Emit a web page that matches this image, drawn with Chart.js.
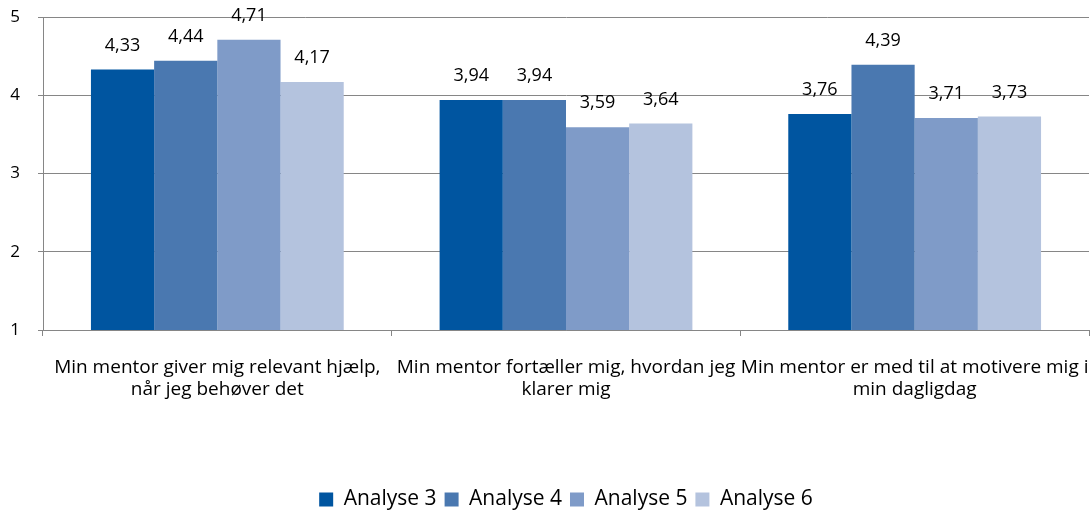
<!DOCTYPE html>
<html>
<head>
<meta charset="utf-8">
<script src="https://cdn.jsdelivr.net/npm/chart.js@4"></script>
<style>
    body { margin: 0; background: #fff; }
    #wrap { width: 1091px; height: 513px; }
</style>
</head>
<body>
<div id="wrap"><canvas id="mentorChart" width="1091" height="513"></canvas></div>
<script>
const categories = [
    ['Min mentor giver mig relevant hjælp,', 'når jeg behøver det'],
    ['Min mentor fortæller mig, hvordan jeg', 'klarer mig'],
    ['Min mentor er med til at motivere mig i', 'min dagligdag']
];
const seriesNames = ['Analyse 3', 'Analyse 4', 'Analyse 5', 'Analyse 6'];
const analyse3 = [4.33, 3.94, 3.76];
const analyse4 = [4.44, 3.94, 4.39];
const analyse5 = [4.71, 3.59, 3.71];
const analyse6 = [4.17, 3.64, 3.73];
const yTicks = [1, 2, 3, 4, 5];

const colors = ['#0055a0', '#4a78b0', '#7f9bc8', '#b4c3de'];
const fontFamily = '"Open Sans", sans-serif';

// value labels above each bar, Danish decimal comma
const barLabels = {
    id: 'barLabels',
    afterDatasetsDraw(chart) {
        const ctx = chart.ctx;
        ctx.save();
        ctx.font = '18px ' + fontFamily;
        ctx.fillStyle = '#000';
        ctx.textAlign = 'center';
        ctx.textBaseline = 'middle';
        chart.data.datasets.forEach((ds, i) => {
            chart.getDatasetMeta(i).data.forEach((bar, j) => {
                ctx.fillText(ds.data[j].toFixed(2).replace('.', ','), bar.x, bar.y - 24);
            });
        });
        ctx.restore();
    }
};

const seriesData = [analyse3, analyse4, analyse5, analyse6];

new Chart(document.getElementById('mentorChart'), {
    type: 'bar',
    plugins: [barLabels],
    data: {
        labels: categories,
        datasets: seriesNames.map((name, i) => ({
            label: name,
            data: seriesData[i],
            backgroundColor: colors[i],
            borderWidth: 0,
            categoryPercentage: 0.725,
            barPercentage: 1
        }))
    },
    options: {
        responsive: false,
        animation: false,
        layout: {
            padding: { top: 17, right: 2, bottom: -7, left: 0 }
        },
        plugins: {
            tooltip: { enabled: false },
            legend: {
                position: 'bottom',
                fullSize: false,
                labels: {
                    boxWidth: 14,
                    boxHeight: 14,
                    color: '#000',
                    padding: 8,
                    font: { family: fontFamily, size: 21 }
                }
            }
        },
        scales: {
            x: {
                afterFit(scale) {
                    scale.height = 151;
                    scale.paddingLeft = 0;
                    scale.paddingRight = 0;
                },
                grid: {
                    offset: true,
                    drawOnChartArea: false,
                    tickLength: 6,
                    color: '#868686'
                },
                border: { color: '#868686' },
                ticks: {
                    color: '#000',
                    padding: 21,
                    maxRotation: 0,
                    autoSkip: false,
                    font: { family: fontFamily, size: 19, lineHeight: 1.16 }
                }
            },
            y: {
                min: 1,
                max: 5,
                afterFit(scale) {
                    scale.width = 43;
                    scale.paddingTop = 0;
                    scale.paddingBottom = 0;
                },
                afterBuildTicks(scale) { scale.ticks = yTicks.map(v => ({ value: v })); },
                grid: {
                    color: '#868686',
                    tickLength: 5
                },
                border: { color: '#868686' },
                ticks: {
                    color: '#000',
                    padding: 18,
                    font: { family: fontFamily, size: 17 }
                }
            }
        }
    }
});
</script>
</body>
</html>
